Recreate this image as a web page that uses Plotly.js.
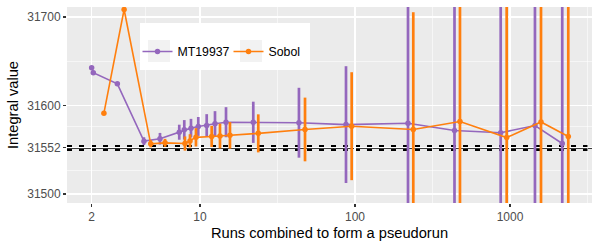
<!DOCTYPE html>
<html><head><meta charset="utf-8">
<script src="https://cdn.plot.ly/plotly-3.0.1.min.js"></script>
<style>html,body{margin:0;padding:0;background:#fff}#chart{width:600px;height:250px}</style>
</head><body><div id="chart"></div>
<script>
// ---- data ----
const mtRuns  = [2.00, 2.05, 2.93, 4.35, 5.52, 7.35, 7.92, 8.75, 9.75, 11.05, 12.5, 14.72, 22.07, 43.5, 87.5, 219.8, 438.5, 871, 1449, 2173];
const mtValue = [31642.6, 31637, 31624.5, 31559.7, 31562.4, 31569.8, 31572.5, 31574.4, 31576.3, 31577.4, 31579.3, 31581.1, 31581, 31580.5, 31578.4, 31580, 31571.8, 31569.2, 31577.4, 31557];
const mtError = [0, 0, 0, 4.4, 6.6, 8.5, 11, 10.5, 10.7, 12.8, 14.3, 17, 23.3, 39.5, 66, 150, 220, 300, 350, 450];

const sobolRuns  = [2.40, 3.24, 4.81, 5.95, 8.0, 8.62, 9.42, 11.9, 13.46, 15.61, 23.77, 47.6, 95.2, 237.7, 475.6, 952, 1585, 2377];
const sobolValue = [31591.3, 31708.5, 31556.7, 31557.8, 31557, 31560, 31564, 31565, 31565.5, 31566.3, 31568.5, 31572.9, 31576.6, 31572.9, 31581.9, 31563.8, 31581.4, 31565];
const sobolError = [0, 0, 4, 4.5, 8, 7.5, 10.4, 12, 14, 15, 21.5, 36, 61, 132.5, 250, 300, 350, 400];

const referenceValue = 31552;
const referenceBand  = [31549.7, 31554.3];

const xTickVals = [2, 10, 100, 1000];
const xTickText = ['2', '10', '100', '1000'];
const xMinorVals = [4.472, 31.62, 316.2, 3162];
const yTickVals = [31500, 31552, 31600, 31700];
const yTickText = ['31500', '31552', '31600', '31700'];
const yMinorVals = [31526, 31576, 31650];

const seriesNames = ['MT19937', 'Sobol'];
const colors = ['#9467BD', '#FF7F0E'];

// ---- layout geometry ----
const W = 600, H = 250;
const M = {l: 67, r: 8, t: 7, b: 47};
const PW = W - M.l - M.r, PH = H - M.t - M.b;
const px = x => (x - M.l) / PW;        // pixel -> paper x
const py = y => (H - M.b - y) / PH;    // pixel -> paper y

const FONT = '"Liberation Sans", Arial, sans-serif';

function series(name, x, y, err, color, legendId) {
  return {
    type: 'scatter', mode: 'lines+markers', name: name,
    x: x, y: y,
    line: {color: color, width: 1.6},
    marker: {color: color, size: 5.5},
    error_y: {type: 'data', array: err, visible: true, color: color, thickness: 2.7, width: 0},
    legend: legendId
  };
}

const traces = [
  series(seriesNames[0], mtRuns, mtValue, mtError, colors[0], 'legend'),
  series(seriesNames[1], sobolRuns, sobolValue, sobolError, colors[1], 'legend2')
];

const shapes = [
  {type: 'line', xref: 'paper', x0: 0, x1: 1, yref: 'y', y0: referenceValue, y1: referenceValue,
   line: {color: '#000', width: 1.6}, layer: 'between'},
  {type: 'line', xref: 'paper', x0: 0, x1: 1, yref: 'y', y0: referenceBand[0], y1: referenceBand[0],
   line: {color: '#000', width: 2, dash: '5px,7px'}, layer: 'between'},
  {type: 'line', xref: 'paper', x0: 0, x1: 1, yref: 'y', y0: referenceBand[1], y1: referenceBand[1],
   line: {color: '#000', width: 2, dash: '5px,7px'}, layer: 'between'},
  // legend box
  {type: 'rect', xref: 'paper', yref: 'paper', x0: px(140), x1: px(310), y0: py(70), y1: py(23),
   fillcolor: '#FFFFFF', line: {width: 0}, layer: 'above'},
  {type: 'rect', xref: 'paper', yref: 'paper', x0: px(148), x1: px(170), y0: py(62), y1: py(40),
   fillcolor: '#F2F2F2', line: {width: 0}, layer: 'above'},
  {type: 'rect', xref: 'paper', yref: 'paper', x0: px(240), x1: px(262), y0: py(62), y1: py(40),
   fillcolor: '#F2F2F2', line: {width: 0}, layer: 'above'}
];

const legendCommon = {
  bgcolor: 'rgba(0,0,0,0)', borderwidth: 0, orientation: 'h',
  font: {family: FONT, size: 12.3, color: '#000'},
  xanchor: 'left', yanchor: 'middle', itemclick: false
};

const layout = {
  width: W, height: H,
  margin: M,
  paper_bgcolor: '#FFFFFF', plot_bgcolor: '#EBEBEB',
  font: {family: FONT, size: 12, color: '#4D4D4D'},
  showlegend: true,
  legend: Object.assign({}, legendCommon, {x: px(137.5), y: py(51.5)}),
  legend2: Object.assign({}, legendCommon, {x: px(228.5), y: py(51.5)}),
  xaxis: {
    type: 'log', range: [Math.log10(1.387), Math.log10(3381)],
    tickmode: 'array', tickvals: xTickVals, ticktext: xTickText,
    ticks: 'outside', ticklen: 3, tickwidth: 1.07, tickcolor: '#333333',
    showgrid: true, gridcolor: '#FFFFFF', gridwidth: 1.07,
    minor: {tickmode: 'array', tickvals: xMinorVals, showgrid: true, gridcolor: '#FFFFFF', gridwidth: 0.53, ticks: ''},
    zeroline: false, showline: false,
    tickfont: {family: FONT, size: 12, color: '#4D4D4D'},
    title: {text: 'Runs combined to form a pseudorun', font: {family: FONT, size: 14.67, color: '#000'}, standoff: 4},
    automargin: false
  },
  yaxis: {
    range: [31489.8, 31711.3],
    tickmode: 'array', tickvals: yTickVals, ticktext: yTickText,
    ticks: 'outside', ticklen: 3, tickwidth: 1.07, tickcolor: '#333333',
    showgrid: true, gridcolor: '#FFFFFF', gridwidth: 1.07,
    minor: {tickmode: 'array', tickvals: yMinorVals, showgrid: true, gridcolor: '#FFFFFF', gridwidth: 0.53, ticks: ''},
    zeroline: false, showline: false,
    tickfont: {family: FONT, size: 12, color: '#4D4D4D'},
    title: {text: 'Integral value', font: {family: FONT, size: 14.67, color: '#000'}, standoff: 5},
    automargin: false
  },
  shapes: shapes
};

Plotly.newPlot('chart', traces, layout, {displayModeBar: false, staticPlot: true});
</script>
</body></html>
